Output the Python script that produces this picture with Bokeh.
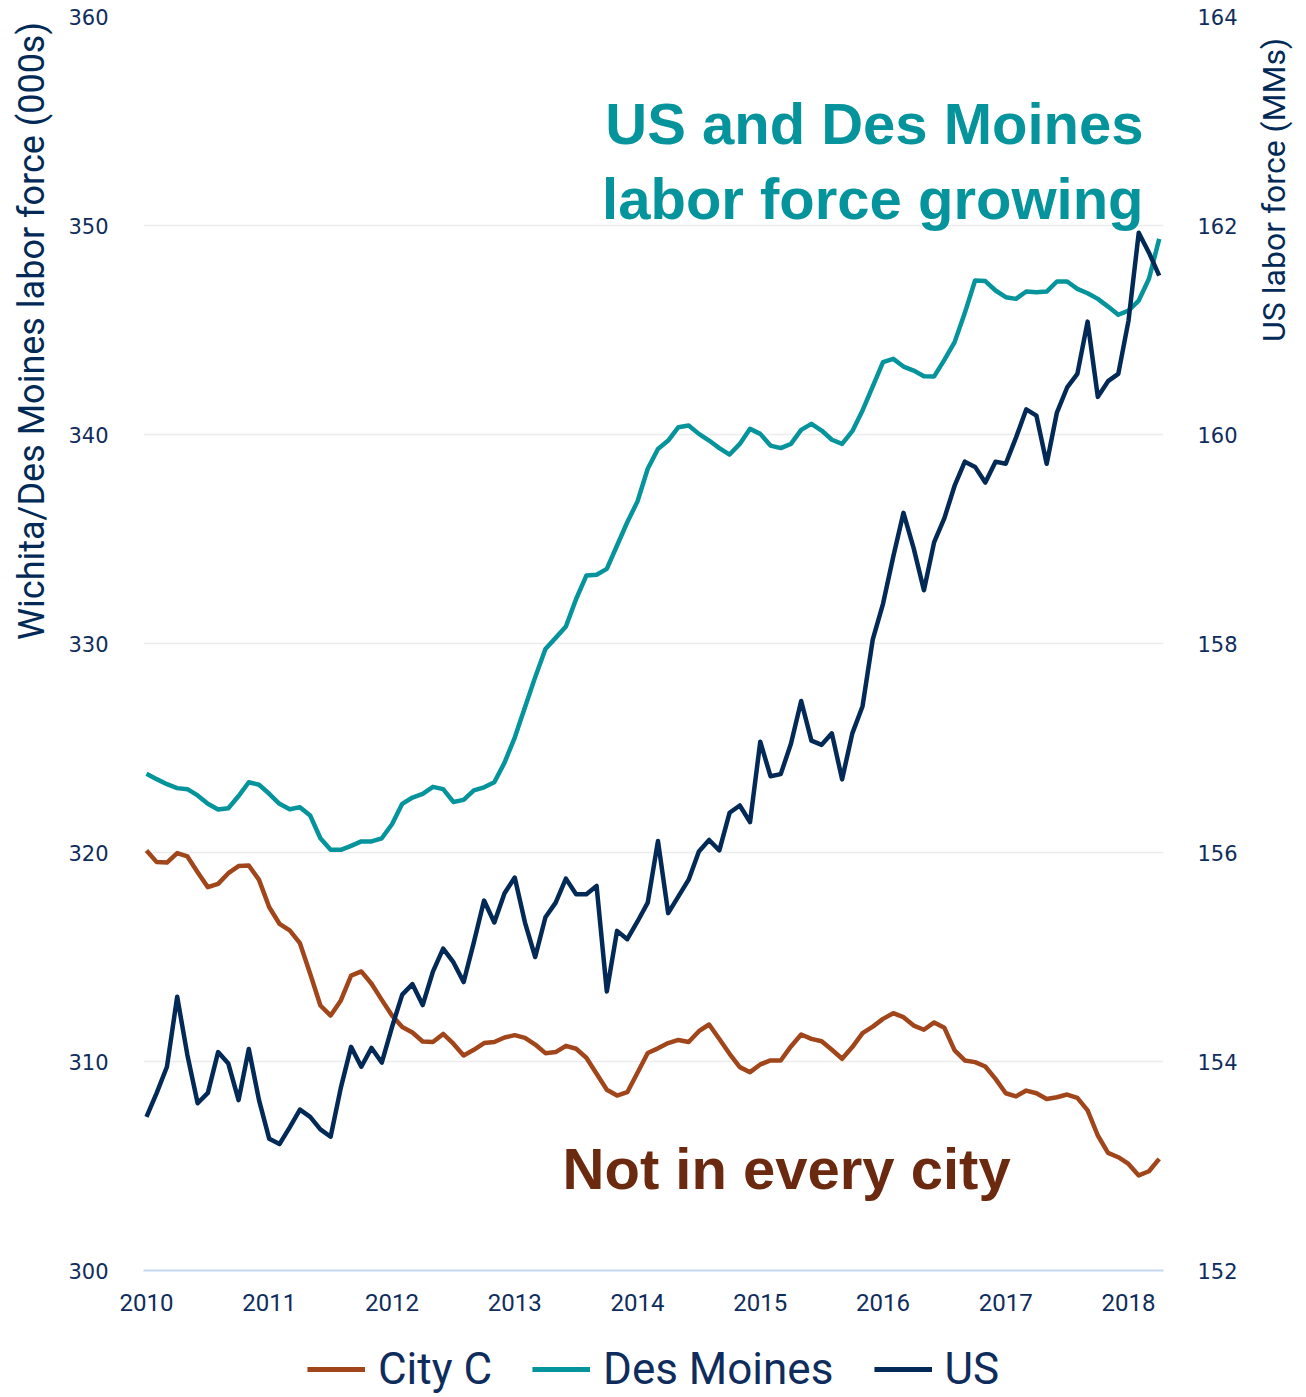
import math
import pandas as pd
from bokeh.plotting import figure
from bokeh.layouts import column
from bokeh.models import (Range1d, LinearAxis, FixedTicker, Legend, LegendItem,
                          Label, ColumnDataSource, Axis)
from bokeh.embed import file_html
from bokeh.resources import INLINE

# ---------------- data ----------------
months = pd.date_range("2010-01-01", periods=100, freq="MS")

city_c = [320.10, 319.54, 319.52, 319.97, 319.81, 319.06, 318.34, 318.50, 319.01, 319.35,
          319.38, 318.69, 317.38, 316.59, 316.27, 315.66, 314.20, 312.68, 312.20, 312.92,
          314.11, 314.31, 313.72, 312.95, 312.20, 311.65, 311.39, 310.96, 310.93, 311.32,
          310.85, 310.29, 310.56, 310.88, 310.93, 311.15, 311.26, 311.13, 310.81, 310.40,
          310.45, 310.75, 310.61, 310.18, 309.41, 308.65, 308.37, 308.53, 309.46, 310.41,
          310.63, 310.88, 311.03, 310.93, 311.45, 311.77, 311.08, 310.37, 309.73, 309.49,
          309.86, 310.05, 310.05, 310.72, 311.29, 311.08, 310.97, 310.56, 310.13, 310.69,
          311.36, 311.67, 312.04, 312.31, 312.12, 311.72, 311.52, 311.87, 311.61, 310.53,
          310.05, 309.97, 309.76, 309.17, 308.48, 308.33, 308.61, 308.48, 308.21, 308.29,
          308.42, 308.26, 307.66, 306.46, 305.63, 305.42, 305.10, 304.55, 304.75, 305.34]

des_moines = [323.77, 323.51, 323.27, 323.08, 323.03, 322.73, 322.33, 322.06, 322.12, 322.70,
              323.36, 323.24, 322.81, 322.33, 322.07, 322.17, 321.77, 320.68, 320.13, 320.13,
              320.32, 320.53, 320.53, 320.68, 321.35, 322.33, 322.63, 322.81, 323.14, 323.03,
              322.42, 322.52, 322.97, 323.12, 323.36, 324.30, 325.50, 326.95, 328.39, 329.74,
              330.27, 330.81, 332.13, 333.25, 333.29, 333.57, 334.69, 335.80, 336.80, 338.36,
              339.31, 339.71, 340.35, 340.43, 340.03, 339.71, 339.35, 339.04, 339.55, 340.27,
              340.03, 339.47, 339.35, 339.55, 340.22, 340.51, 340.19, 339.75, 339.55, 340.16,
              341.15, 342.30, 343.46, 343.62, 343.25, 343.06, 342.79, 342.78, 343.57, 344.42,
              345.82, 347.37, 347.34, 346.89, 346.57, 346.49, 346.84, 346.81, 346.84, 347.32,
              347.32, 346.97, 346.76, 346.49, 346.12, 345.73, 345.93, 346.41, 347.45, 349.36]

us = [153.47, 153.70, 153.95, 154.62, 154.06, 153.60, 153.70, 154.09, 153.98, 153.63,
      154.12, 153.63, 153.26, 153.21, 153.37, 153.54, 153.47, 153.35, 153.28, 153.75,
      154.14, 153.95, 154.13, 153.99, 154.33, 154.64, 154.74, 154.54, 154.86, 155.08,
      154.95, 154.76, 155.14, 155.54, 155.33, 155.61, 155.76, 155.33, 155.00, 155.38,
      155.52, 155.75, 155.60, 155.60, 155.68, 154.67, 155.25, 155.17, 155.34, 155.52,
      156.11, 155.42, 155.58, 155.74, 156.01, 156.12, 156.02, 156.38, 156.45, 156.29,
      157.06, 156.73, 156.75, 157.04, 157.45, 157.07, 157.03, 157.14, 156.70, 157.14,
      157.40, 158.04, 158.38, 158.83, 159.25, 158.91, 158.51, 158.97, 159.20, 159.51,
      159.74, 159.69, 159.54, 159.74, 159.72, 159.97, 160.24, 160.18, 159.72, 160.21,
      160.45, 160.58, 161.08, 160.36, 160.51, 160.58, 161.09, 161.93, 161.74, 161.52]

year_ticks = [2010, 2011, 2012, 2013, 2014, 2015, 2016, 2017, 2018]
left_ticks = [300, 310, 320, 330, 340, 350, 360]
right_ticks = [152, 154, 156, 158, 160, 162, 164]
series_names = ["City C", "Des Moines", "US"]

left_title = "Wichita/Des Moines labor force (000s)"
right_title = "US labor force (MMs)"
note_up = ["US and Des Moines", "labor force growing"]
note_down = "Not in every city"

# ---------------- styling ----------------
BROWN = "#a1461b"
TEAL = "#06949c"
NAVY = "#032a57"
TEXT = "#0f2d5c"
NBSP = "\u00a0"

x = [d.year + (d.month - 1) / 12 for d in months]
src = ColumnDataSource(dict(x=x, city=city_c, dsm=des_moines, us=us))

p = figure(frame_width=1020, frame_height=1254,
           min_border_left=143, min_border_right=138,
           min_border_top=16, min_border_bottom=60,
           x_range=Range1d(2009.9756, 2018.285), y_range=Range1d(300, 360),
           output_backend="svg", toolbar_location=None)
p.outline_line_color = None
p.extra_y_ranges = {"us": Range1d(152, 164)}

AXIS_PROPS = Axis.properties()


def try_set(obj, name, val):
    if name in AXIS_PROPS:
        try:
            setattr(obj, name, val)
        except (ValueError, AttributeError):
            pass


# x axis
xa = p.xaxis[0]
xa.ticker = FixedTicker(ticks=year_ticks)
xa.axis_line_color = "#c5d7ef"
xa.axis_line_width = 2
xa.major_tick_line_color = None
xa.minor_tick_line_color = None
xa.major_tick_out = 0
xa.major_tick_in = 0
xa.major_label_text_font = "Roboto"
xa.major_label_text_font_size = "24px"
xa.major_label_text_color = TEXT
xa.major_label_standoff = 23

# left axis (title pushed toward the top with leading no-break spaces)
ya = p.yaxis[0]
ya.ticker = FixedTicker(ticks=left_ticks)
ya.axis_line_color = None
ya.major_tick_line_color = None
ya.minor_tick_line_color = None
ya.major_tick_out = 0
ya.major_tick_in = 0
ya.major_label_text_font = "DejaVu Sans"
ya.major_label_text_font_size = "21px"
ya.major_label_text_color = TEXT
ya.major_label_standoff = 35
ya.axis_label = NBSP * 70 + left_title
ya.axis_label_standoff = 12
ya.axis_label_text_font = "Roboto"
ya.axis_label_text_font_style = "normal"
ya.axis_label_text_font_size = "36px"
ya.axis_label_text_color = NAVY
try_set(ya, "axis_label_align", "center")

# right axis
ra = LinearAxis(y_range_name="us", ticker=FixedTicker(ticks=right_ticks))
ra.axis_line_color = None
ra.major_tick_line_color = None
ra.minor_tick_line_color = None
ra.major_tick_out = 0
ra.major_tick_in = 0
ra.major_label_text_font = "DejaVu Sans"
ra.major_label_text_font_size = "21px"
ra.major_label_text_color = TEXT
ra.major_label_standoff = 34
ra.axis_label = NBSP * 38 + right_title
ra.axis_label_standoff = 33
ra.axis_label_text_font = "Roboto"
ra.axis_label_text_font_style = "normal"
ra.axis_label_text_font_size = "32px"
ra.axis_label_text_color = NAVY
try_set(ra, "axis_label_align", "center")
try_set(ra, "axis_label_orientation", math.pi / 2)
p.add_layout(ra, "right")

p.xgrid.visible = False
p.ygrid.ticker = FixedTicker(ticks=left_ticks)
p.ygrid.grid_line_color = "#ececec"
p.ygrid.grid_line_width = 1.5

p.line("x", "city", source=src, line_color=BROWN, line_width=4.5, line_join="round")
p.line("x", "dsm", source=src, line_color=TEAL, line_width=4.5, line_join="round")
p.line("x", "us", source=src, line_color=NAVY, line_width=4.5, line_join="round",
       y_range_name="us")

# annotations
p.add_layout(Label(x=2018.122, y=354.88, text=note_up[0], text_align="right",
                   text_baseline="alphabetic", text_font="Liberation Sans",
                   text_font_style="bold", text_font_size="58px", text_color=TEAL))
p.add_layout(Label(x=2018.122, y=351.29, text=note_up[1], text_align="right",
                   text_baseline="alphabetic", text_font="Liberation Sans",
                   text_font_style="bold", text_font_size="58px", text_color=TEAL))
p.add_layout(Label(x=2017.04, y=304.88, text=note_down, text_align="right",
                   text_baseline="alphabetic", text_font="Liberation Sans",
                   text_font_style="bold", text_font_size="58px", text_color="#6b2a0f"))

# ---------------- legend strip ----------------
lg = figure(frame_width=1020, frame_height=65,
            min_border_left=143, min_border_right=138,
            min_border_top=0, min_border_bottom=0,
            x_range=Range1d(0, 1), y_range=Range1d(0, 1),
            x_axis_location=None, y_axis_location=None,
            output_backend="svg", toolbar_location=None)
lg.outline_line_color = None
lg.grid.visible = False
colors = [BROWN, TEAL, NAVY]
cols = ["city", "dsm", "us"]
items = []
for name, col, c in zip(series_names, cols, colors):
    # same series, drawn outside this strip's visible range: only the legend key shows
    r = lg.line("x", col, source=src, line_color=c, line_width=5)
    items.append(LegendItem(label=name, renderers=[r]))
legend = Legend(items=items, orientation="horizontal", location="bottom_center",
                glyph_width=58, glyph_height=40, label_standoff=13, spacing=40,
                padding=0, margin=0, border_line_color=None,
                background_fill_alpha=0,
                label_text_font="Roboto", label_text_font_size="44px",
                label_text_color=TEXT)
lg.add_layout(legend, "center")

layout = column(p, lg)
open("out.html", "w").write(file_html(layout, INLINE))
